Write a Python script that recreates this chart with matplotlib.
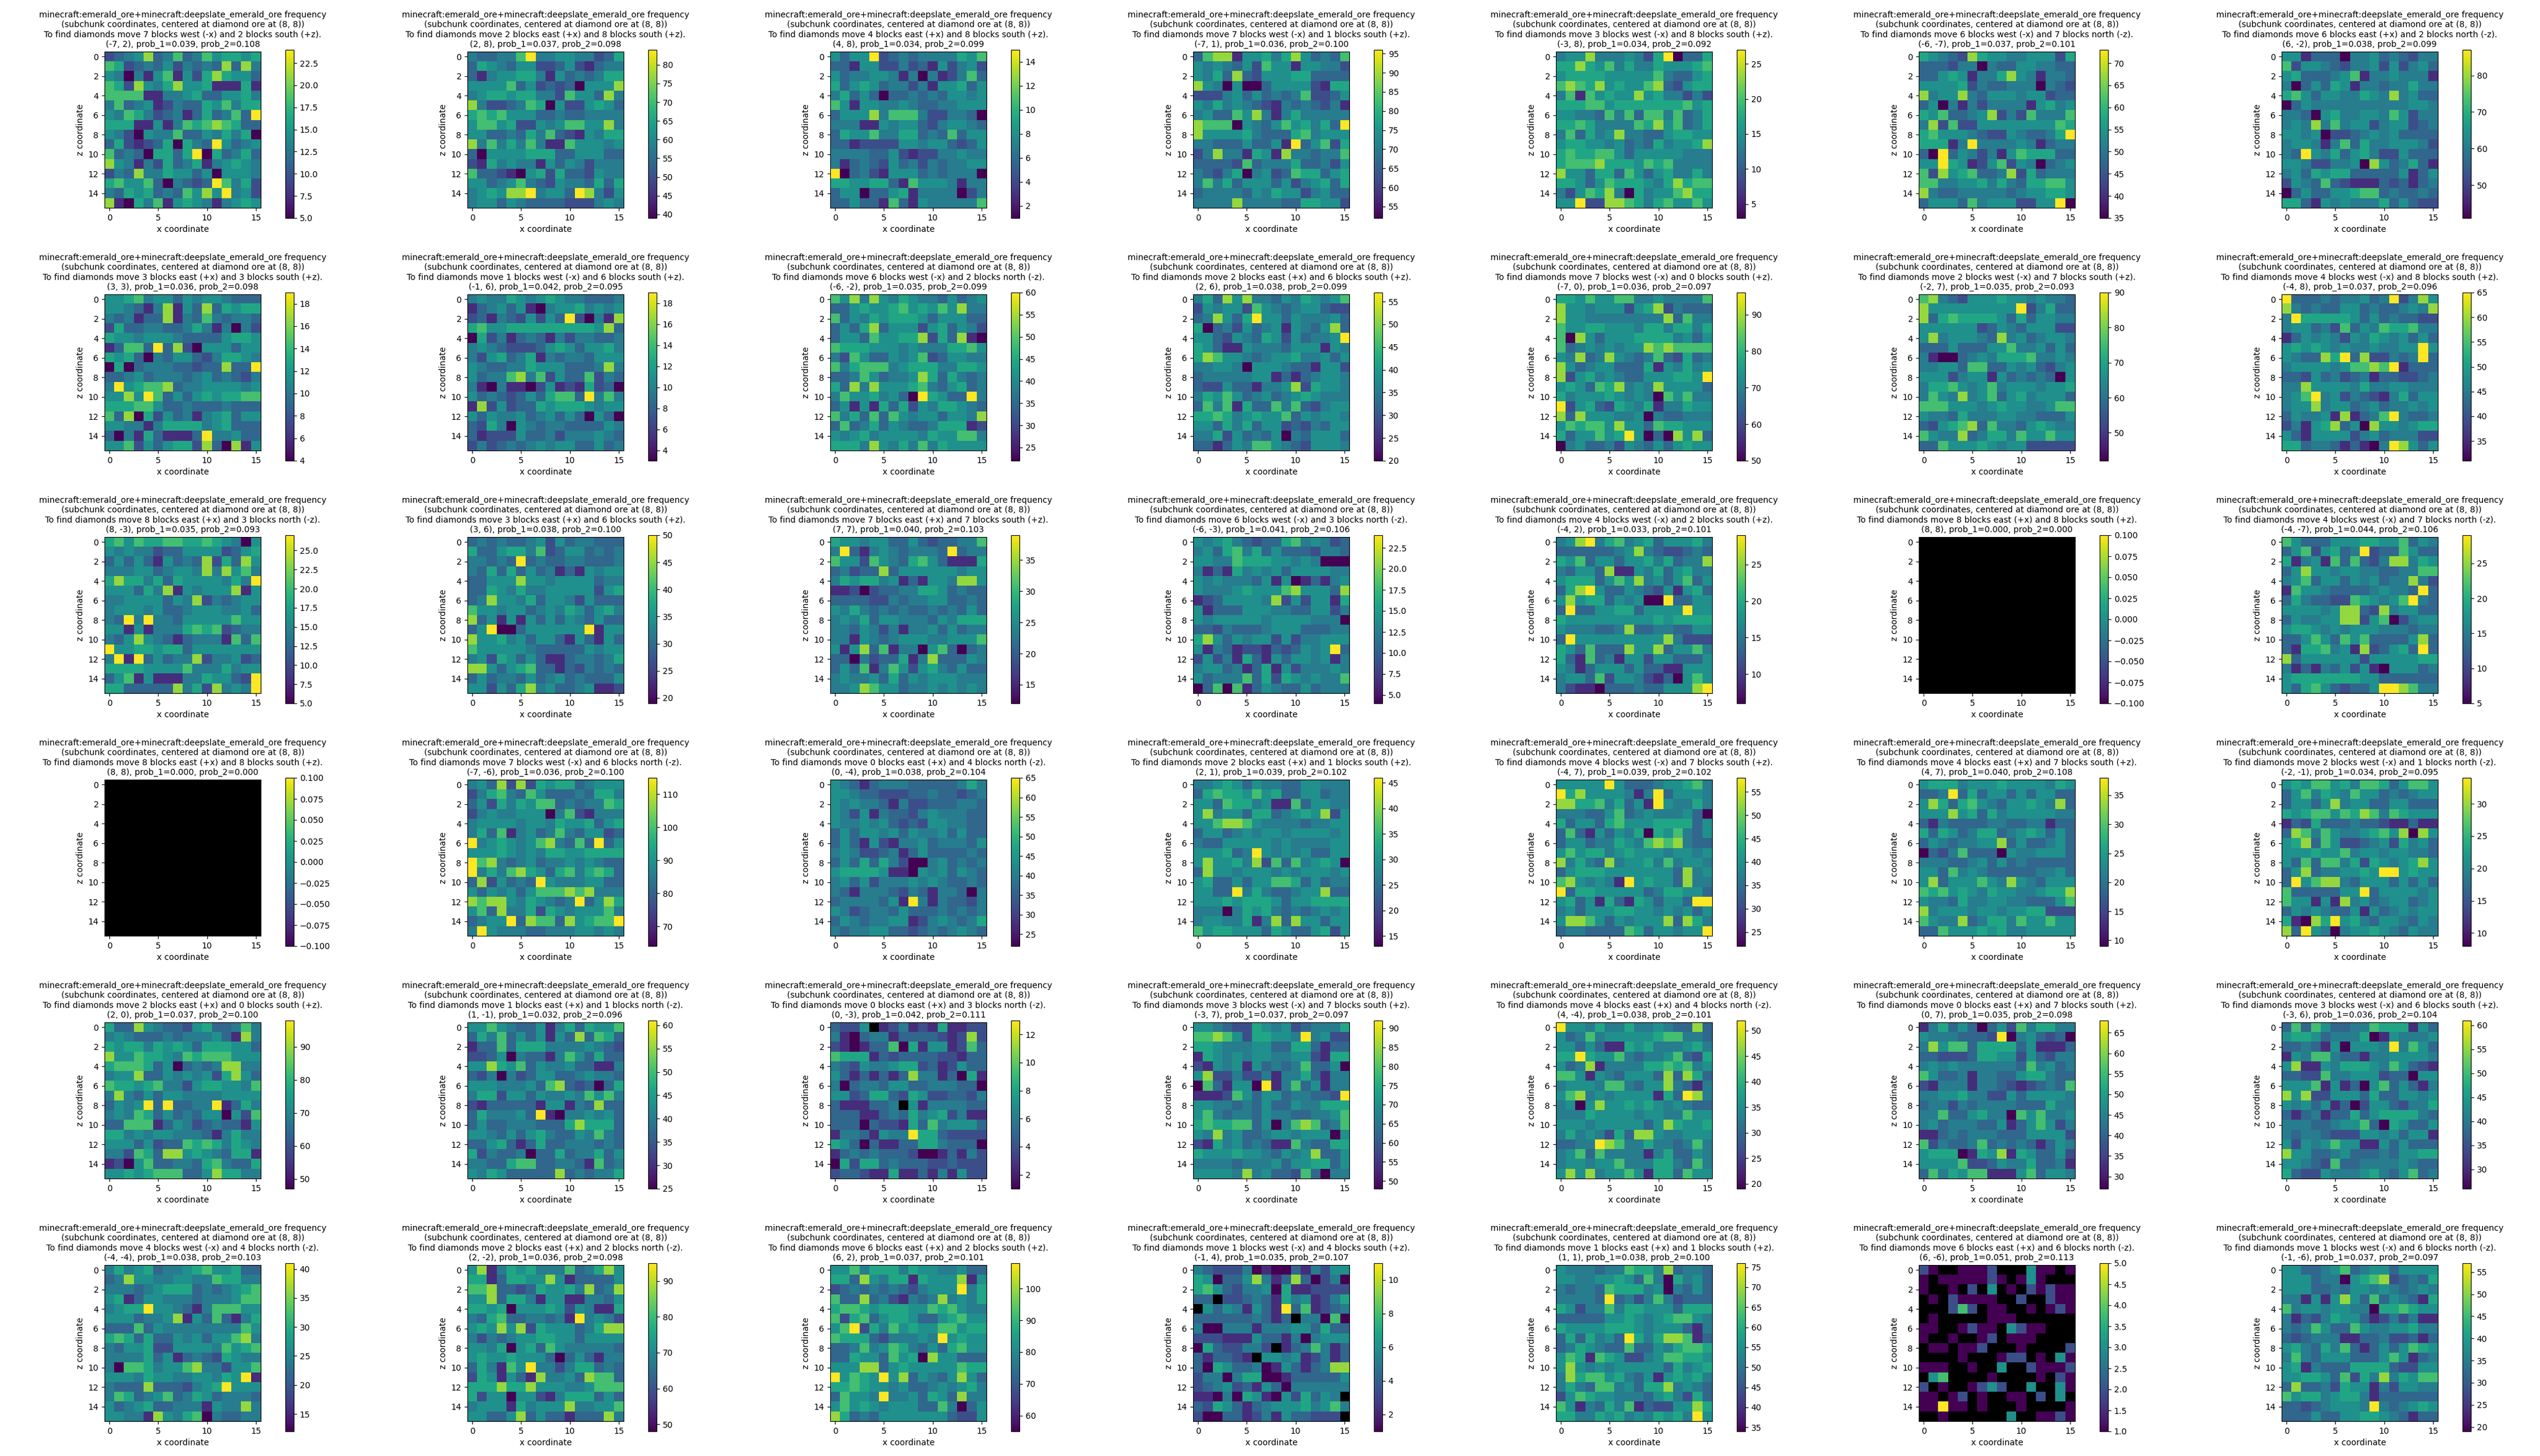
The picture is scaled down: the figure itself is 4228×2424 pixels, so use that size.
import numpy as np
import matplotlib
matplotlib.use('Agg')
import matplotlib.pyplot as plt

# one entry per panel, row by row
move_x = [-7, 2, 4, -7, -3, -6, 6,
          3, -1, -6, 2, -7, -2, -4,
          8, 3, 7, -6, -4, 8, -4,
          8, -7, 0, 2, -4, 4, -2,
          2, 1, 0, -3, 4, 0, -3,
          -4, 2, 6, -1, 1, 6, -1]
move_z = [2, 8, 8, 1, 8, -7, -2,
          3, 6, -2, 6, 0, 7, 8,
          -3, 6, 7, -3, 2, 8, -7,
          8, -6, -4, 1, 7, 7, -1,
          0, -1, -3, 7, -4, 7, 6,
          -4, -2, 2, 4, 1, -6, -6]
prob_1 = [0.039, 0.037, 0.034, 0.036, 0.034, 0.037, 0.038,
          0.036, 0.042, 0.035, 0.038, 0.036, 0.035, 0.037,
          0.035, 0.038, 0.040, 0.041, 0.033, 0.000, 0.044,
          0.000, 0.036, 0.038, 0.039, 0.039, 0.040, 0.034,
          0.037, 0.032, 0.042, 0.037, 0.038, 0.035, 0.036,
          0.038, 0.036, 0.037, 0.035, 0.038, 0.051, 0.037]
prob_2 = [0.108, 0.098, 0.099, 0.100, 0.092, 0.101, 0.099,
          0.098, 0.095, 0.099, 0.099, 0.097, 0.093, 0.096,
          0.093, 0.100, 0.103, 0.106, 0.101, 0.000, 0.106,
          0.000, 0.100, 0.104, 0.102, 0.102, 0.108, 0.095,
          0.100, 0.096, 0.111, 0.097, 0.101, 0.098, 0.104,
          0.103, 0.098, 0.101, 0.107, 0.100, 0.113, 0.097]
freq_min = [5, 39, 1, 52, 3, 35, 41,
            4, 3, 22, 20, 50, 42, 31,
            5, 19, 12, 4, 6, -0.1, 5,
            -0.1, 64, 22, 13, 22, 9, 8,
            47, 25, 1, 48, 19, 27, 26,
            12, 48, 55, 1, 34, 1, 19]
freq_max = [24, 84, 15, 96, 27, 73, 87,
            19, 19, 60, 57, 96, 90, 65,
            27, 50, 39, 24, 29, 0.1, 29,
            0.1, 115, 65, 46, 58, 38, 34,
            98, 61, 13, 92, 52, 68, 61,
            41, 95, 108, 11, 76, 5, 57]

# share of the freq_min..freq_max range that each colour step below stands for
level_share = [0.0, 0.13, 0.24, 0.33, 0.42, 0.5, 0.59, 0.7, 0.84, 1.0]

# cell colours read by eye: steps 0-9, . is an empty (black) cell
EMPTY = ' '.join(['................'] * 16)
levels = [
 '2345834734756656 7623435243438384 5404157152686553 7628546855611161 7777114456335564 4734512433657466 5476423413634739 6661151476787633 5420544733546460 3621236064395345 7343066369063463 8541426346145654 2438446553505554 6755730432397462 4365634375859452 8106471565414565',
 '4334479445544236 3654355223521344 3145566415343466 5555735232305558 4566566442755384 8422347605225653 6767555334334444 5775622545775584 5533436473215466 8474647411755545 3055556663355533 2164544153542444 7332105626332544 5534574325443636 4565889455398425 4553543333222454',
 '5355923434444657 3315522423152452 5344554140412473 6356534424155635 4635303343435545 7515544543344555 3555847774224430 4441154553245543 3655744663437355 3312222554553235 4444335212244544 4134325342434455 9034215553434440 6655663175554144 3550335614444024 3353317315444447',
 '3788155646853437 5454352755155442 5463832555663333 8540500355552166 2224535343472235 5464543214343241 4533758414644444 8777054357564639 8555564333674555 4433353351935726 2484416518443447 3333273444633425 4324604523766356 4746355535245636 3444435465524533 4444844443366552',
 '4558444542690336 6686574644655567 5666655555743356 7876856557832566 4717565585644242 6667756666666756 5544374737747346 6676444476857346 4736458443356655 5665545343645568 6766775355555444 6777866657674444 8553663753564464 6653576665468677 4257684064557866 5592288764675575',
 '6543286554455526 3332440433554433 3356514468541443 5555624334440432 8455843555455233 3504142444415645 6573345824274447 4827225555555576 6755543225433469 6661494444541344 3093542415766633 5596512572540345 7285673348263444 7744556464366775 8433444443455665 3555374555225590',
 '5513330445343244 7255432445252453 5633345714454441 4035365144344644 6753554465484533 0354444444444554 4430564455475244 4548474552455234 5545022345453333 4554147364455542 4395463564225333 5542244508534631 4536566333335135 2543732111323134 0353355677343343 6631545444635322',
 '5567455354554333 5543148153836566 4341338143743443 2633443346414042 6554555433335665 1377393820555355 6563043553246654 0603444332338339 3345344434534324 4956778344555545 5585973535656677 6667753343334333 7380625341456355 5544146666456333 3041631113944533 5572535662830815',
 '4544654565443334 1345351045564545 2314325253920418 6755666666666583 0624134314244334 4543222356535564 4256346143443555 5433446555333484 5344784725337243 4104110251216230 5343235367739474 1825233656665455 5354453453530530 3264054344333354 3122253342444543 2423434545533534',
 '7584854654435345 3356556756575844 7354656665355533 3536835552563542 3553755668263810 7666555454446675 4275335457235544 7467774566644665 3347534458636434 6384855567435634 4755645309653394 3515163625466543 7463737545535548 3734635433466612 5456455554655774 6664854647465555',
 '4638584435465457 2545527543455322 3485369553544453 6034253451543583 5532543652534459 6531154443555154 6875543455644535 4455405554331552 3444445513134554 3225331445826554 4657534534565444 3747163374732455 6676456557354554 5536463552324355 4462534350435553 3313547754325554',
 '6657557744544447 8554555256824333 8554444444483744 7556655546646646 7085355566664535 7345454558787777 5483485434732634 8534553336154645 8256454335556659 5653768454855553 6455565454075744 9256326546144655 8385554450433444 5767758553766555 6355756950308583 0453342543535655',
 '7843255565545443 8555555555924633 8367666653635544 5555552354355522 5845554384534554 3335333557445353 4100345466674454 4455377335453245 5552455153434305 4667545745554556 4754845735645553 7775554565544577 5443644455443335 3256783744356544 7544834664755755 3375556545522222',
 '9333434453492485 8434335534334548 4966666535343322 4553427354766744 1354542546545353 5656545445445595 5433869382243493 4555545778791333 3325342341332234 4485555464455444 4579452432146355 4558455345344545 3544518134794334 2415683508554566 5315555245344422 6634431310498535',
 '6757667766765405 5454423355552356 3535315343826385 4445534554848574 6866463655554649 5553648154555815 4455553548243455 4555453345554453 4394944355555755 5515144467672344 4358543134441737 9556656635555555 4919353448244523 6666555574446455 3571511144655329 6633333846284549',
 '3434334525344333 6335664723553434 4434393433443334 4363635341315455 3355585545555344 3365464455555256 3485546355425333 7554553454653564 8351515353543533 3590035555559155 8556453553153153 7555554333335455 4526535311344346 8853567331324343 3534435345343335 5525368453345112',
 '6554553353233447 4931454344439344 7552754367531116 3423383555555455 4656645131554885 1120233446653433 3333224344553343 5464343433434353 4546355444354666 4435424144535344 4415434555445557 5158371440573034 3304233614833354 3537147525643533 4544536354555444 4458755344545454',
 '5456432336745423 4536746353332443 5544766655454000 4131645453555544 5454443515013145 5444565557855538 1235555482525516 5133355544335524 5455555455554440 3324333455533344 6853545525244555 5143122132354593 2524163153554514 4553413615244454 5344473626545447 0370713543353444',
 '4589467456355564 3333334584322343 6573553556463448 4355381154635644 5666357584535735 3689533543251563 5856635450093355 3933556635555955 6555555555656666 5444334833443355 3955555555584222 6537333855835574 6317341552553335 5413555353311555 4553725542130575 4211033343355589',
 EMPTY,
 '7533355566557354 3572563492337533 6145173732488465 3585545544334477 4573553545344842 1755433334544393 3643322765457943 5555458832845533 3544558825702455 5665454555444344 3357537573333583 3166745182356393 8355555525555566 4131435251055534 5666666655333333 5367532335998744',
 EMPTY,
 '4538282656634555 2467437533343664 3526465773434476 2454455504721444 4555545546556356 4637145347435523 9456545784373935 5556545466556666 9784345344545433 9464786536746763 3825343954445533 5354535777878444 8788546543493586 5738446265455574 3455938773856779 4954443344455454',
 '5431344433333464 5543322233433234 5454431422333443 5425143324544433 5445453232554433 3535545354453533 3531521445344435 4542234135333343 3536364200453434 5666651105453543 4535244454543343 4314443243144304 3444435194143324 5423443533343434 3543445512454346 4344553323434543',
 '4456535443355444 3676657563355344 5537664511735544 5845536634565825 5578875444434455 3553454554555545 4335555545444455 5556349545453355 5855648273745650 3855455545455545 5633535577635344 5533946433455833 5556566653556666 4440465643434545 4554461483855355 7566555365335625',
 '5555595333455674 9685555414935554 8866746351954464 4443357345444530 6355367555666635 3731535460657435 3553446547878433 5756645655545545 8464384556474554 3566655555553845 7854541956553844 9366555553466553 5635163165355399 4535556655454535 5887535455583864 3443333763554559',
 '5666455565555465 3349363553535533 5863675435565483 5558563645555544 3143333443344133 6365346634565353 3543445583533453 0324733305445553 4443345353433333 5537454333334453 5835557548543555 7675654655445668 5443644554433357 8455545545566222 7544834664755755 3375556564455555',
 '5657756477635775 3574654755343455 3553584553355333 6567757687476555 1326333433211311 3874754456758085 5683752234526453 5556557455455443 5373774626545685 3583445565995655 3957884355535353 7333335593555545 7551518453455345 3545433515345455 6108695643554354 8395404556543544',
 '6338543325633474 4543334344453184 6566465653666553 8557665476777555 6777635034348844 4558335454526853 7665674425665547 4843535544445555 3545939334491364 4547635343550527 3377713542343315 6645455444314644 5553523376764654 4427638856543661 1205733443674336 5565677733586644',
 '5575433514636557 3647353515383763 1337366644445432 2235043314753633 5586573544533114 3240423553345443 5554445378323036 4662553544547574 2133333155143833 3644453910445453 3533444333686663 5543535643354743 3356313633444343 6243340336344635 4433677334431734 5465333338343446',
 '3225.12412161122 4103441333321282 2101337061551273 7666132333322133 4325445662312533 5313131384413061 4034435533444330 5523663265223324 3111334.51444433 3331134364562411 3330322163745553 1443154496632222 6530311336643330 1343433320013142 0626634333223222 2332116113141522',
 '5543226545234446 7787526655494522 6654445533663133 1654545544552166 2154515343473350 5822422414463144 0731550914735144 1112753553443329 5544343533544666 5743443544334457 6766773504787347 5484533455455505 2164534311743366 6555655435458335 4444344453556635 5555484533273044',
 '9554644644543383 5347455555677443 5535311656444564 6696557434457326 5348144446676745 7751543555383863 4555477435584314 5784545555163984 4505855656545433 4446555545544755 5554555553586556 4645426388544555 3344987446443474 4573744441463354 4554557444664374 5858455751663755',
 '1463530352746644 5444333290453230 4857736666351113 3322236655253244 4545444444374534 7533414433566433 2144414432123437 4455644225355554 3442434444333644 4473356440757445 4534443351357524 1134344433355552 7243347343431354 5666016581653352 5555722354463341 3746577111573554',
 '3737533447666153 5665344460154445 3343150555494753 1547743314455554 5811546665475321 3322744555233055 5557151305735314 8582255536335545 5453513025532446 3134133635666643 4443345573065335 4344322255453551 5254575511535333 8553345333435566 5543273344445433 6322544456435734',
 '4645634456755633 3485544554476644 4443456663434567 5613554443444577 4566955431477755 5553445815373146 3337354444444475 6763633545355784 4355622555547567 4444635134326544 4077645578442557 5554655445546591 4333833324569555 4763457346534443 5345633444154484 5544185467043344',
 '5814656444734685 6613665585133335 7783323655648348 5583664155114435 6656055565254116 4367334434194542 5658582655534688 4243455665535555 5546056375444443 5655655530353144 3641759442466343 2651531844538773 6668668555445777 6255055214666353 4555164555844557 5533583533133384',
 '5574666465544533 6638546616555815 2343434324555946 7338342143484546 6776566655767544 7267356653356755 5792647565577566 7666324445495655 3347457643536755 3365537560855333 5558835655555766 9576595835435853 6676554533454564 3755494453653844 5756545553374035 8634355555553225',
 '4322240100314255 6503358413830240 6753244506112222 33.2234316451246 .535415319371234 3333334313.44070 4004441444553633 2221115331404555 06322442.1347413 313321.554512413 3065334015313488 2440466001333335 2345231530444444 110406510526354. 3265313455564574 200331241533222.',
 '5444344766483443 5544556537406453 4344376664504353 4444393424742333 6524474665553666 3333355654567754 6555566654555314 3636453964688713 3465433733546776 5761765224577665 5854545555536456 4867756435156564 4643774536684543 2576554443564263 7514364713225586 6644656454656495',
 '20..0002...500.0 0.0000020.050... 0..0.2.5.0.20200 .0.20000..2..200 ...272.00..0.020 .0.....000...... 00..0200.5200... 0..0..02.000.... .00.002...0....2 ....0...022.0.50 000..0..5..20002 .57....0....0.20 2.0..0252..5..50 00.02.0..00.2.5. 00900.0...0....0 ..0......5..0020',
 '5533457345535555 5553440567823436 5553343554543454 4415158537354316 7455455440667655 4132465531242411 4347533754455644 3234441133422313 5643647313535765 4743555333575134 5614333666632255 5566537264846577 3833426551425544 7566456641333333 3323455549434565 3335335566543133',
]


def read_cells(text, low, high):
    cells = []
    for row in text.split():
        row = row[:16].ljust(16, row[-1])
        cells.append([np.nan if c == '.' else low + level_share[int(c)] * (high - low) for c in row])
    return np.ma.masked_invalid(np.array(cells))


def make_title(dx, dz, p1, p2):
    ew = f'{abs(dx)} blocks east (+x)' if dx >= 0 else f'{abs(dx)} blocks west (-x)'
    ns = f'{abs(dz)} blocks south (+z)' if dz >= 0 else f'{abs(dz)} blocks north (-z)'
    return ('minecraft:emerald_ore+minecraft:deepslate_emerald_ore frequency\n'
            '(subchunk coordinates, centered at diamond ore at (8, 8))\n'
            f'To find diamonds move {ew} and {ns}.\n'
            f'({dx}, {dz}), prob_1={p1:.3f}, prob_2={p2:.3f}')


W, H = 4228, 2424
fig = plt.figure(figsize=(W / 100, H / 100), dpi=100)
cmap = plt.get_cmap('viridis').copy()
cmap.set_bad('black')

for i in range(len(levels)):
    row, col = divmod(i, 7)
    x0 = 174 + col * 604
    y0 = 86 + row * 404
    ax = fig.add_axes([x0 / W, 1 - (y0 + 260) / H, 260 / W, 260 / H])
    cax = fig.add_axes([(x0 + 301) / W, 1 - (y0 + 277) / H, 14 / W, 280 / H])
    cells = read_cells(levels[i], freq_min[i], freq_max[i])
    im = ax.imshow(cells, cmap=cmap, vmin=freq_min[i], vmax=freq_max[i], aspect='auto')
    ax.set_title(make_title(move_x[i], move_z[i], prob_1[i], prob_2[i]), fontsize=10)
    ax.set_xlabel('x coordinate')
    ax.set_ylabel('z coordinate')
    ax.set_xticks([0, 5, 10, 15])
    ax.set_yticks(range(0, 16, 2))
    fig.colorbar(im, cax=cax)

fig.savefig('out.png', dpi=100)
